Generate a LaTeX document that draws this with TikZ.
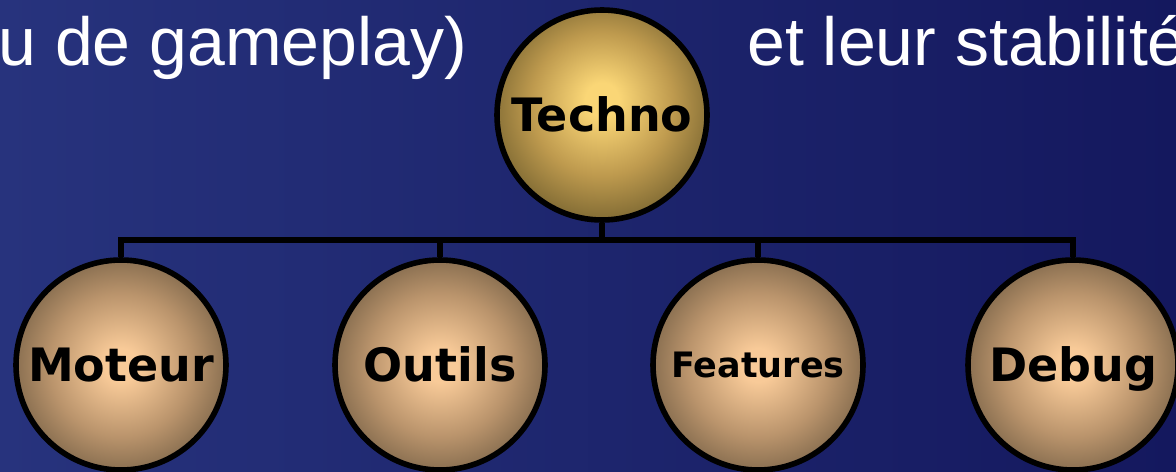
\documentclass[tikz,border=0pt]{standalone}
\usepackage{fontspec}
\setmainfont{Liberation Sans}
\newfontfamily\labelfont{DejaVu Sans}
\definecolor{bgleft}{HTML}{27337D}
\definecolor{bgright}{HTML}{14185E}
\definecolor{tC}{HTML}{FAD676}
\definecolor{tM}{HTML}{BE9A4E}
\definecolor{tE}{HTML}{75622F}
\definecolor{cC}{HTML}{F8CA98}
\definecolor{cM}{HTML}{BA946C}
\definecolor{cE}{HTML}{735E44}
\pgfdeclareradialshading{technoshade}{\pgfpoint{0bp}{4bp}}{color(0bp)=(tC); color(4bp)=(tC); color(17bp)=(tM); color(29bp)=(tE); color(50bp)=(tE)}
\pgfdeclareradialshading{childshade}{\pgfpoint{0bp}{0bp}}{color(0bp)=(cC); color(4bp)=(cC); color(17bp)=(cM); color(29bp)=(cE); color(50bp)=(cE)}
\begin{document}
\begin{tikzpicture}[x=0.5pt,y=-0.5pt,
  bubble/.style={circle, draw=black, line width=2.8pt, minimum size=105pt, inner sep=0pt,
    shading=childshade, text=black,
    font=\labelfont\bfseries\fontsize{23}{23}\selectfont, text height=16.8pt, text depth=0pt},
  topbubble/.style={bubble, shading=technoshade},
  smallbubble/.style={bubble, font=\labelfont\bfseries\fontsize{17.5}{17.5}\selectfont, text height=12.8pt},
  conn/.style={draw=black, line width=2.8pt},
  title/.style={anchor=base west, inner sep=0pt, text=white, font=\fontsize{34}{34}\selectfont}]
\useasboundingbox (0,0) rectangle (1176,471);
\clip (0,0) rectangle (1176,471);
\shade[left color=bgleft, right color=bgright] (0,0) rectangle (1176,471);
\node[title] (t1) at (-2,65) {u de gameplay)};
\node[title] (t2) at (747,65) {et leur stabilité};
\node[topbubble] (techno) at (602,115) {Techno};
\node[bubble] (moteur) at (121,365) {Moteur};
\node[bubble] (outils) at (440,365) {Outils};
\node[smallbubble] (features) at (758,365) {Features};
\node[bubble] (debug) at (1073,365) {Debug};
\coordinate (bar) at (602,240);
\draw[conn] (techno) -- (bar);
\draw[conn] (moteur) |- (bar) -| (debug);
\draw[conn] (outils) -- (outils |- bar);
\draw[conn] (features) -- (features |- bar);
\end{tikzpicture}
\end{document}
